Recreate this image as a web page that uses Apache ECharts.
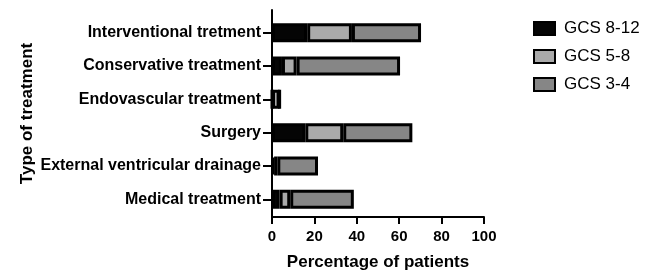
<!DOCTYPE html>
<html>
<head>
<meta charset="utf-8">
<script src="https://cdn.jsdelivr.net/npm/echarts@6/dist/echarts.min.js"></script>
<style>
  html, body { margin: 0; padding: 0; background: #fff; }
  #chart { width: 649px; height: 276px; }
</style>
</head>
<body>
<div id="chart"></div>
<script>
// categories, top to bottom
var treatments = [
    'Interventional tretment',
    'Conservative treatment',
    'Endovascular treatment',
    'Surgery',
    'External ventricular drainage',
    'Medical treatment'
];
var seriesNames = ['GCS 8-12', 'GCS 5-8', 'GCS 3-4'];
// percentage of patients per GCS group
var gcs812 = [16.6, 4.7, 0, 15.7, 1, 3.6];
var gcs58 = [21.1, 6.9, 3.6, 17.9, 1.5, 5];
var gcs34 = [32.6, 48.8, 0, 32.6, 19.2, 30];
var xTicks = [0, 20, 40, 60, 80, 100];

var colors = ['#050505', '#aaaaaa', '#868686'];
var font = '"Liberation Sans", Arial, sans-serif';

var chart = echarts.init(document.getElementById('chart'));

var option = {
    animation: false,
    textStyle: { fontFamily: font, color: '#000' },
    grid: [
        // axis frame (x axis and y axis line)
        { left: 272, width: 212, top: 10, height: 211 },
        // bars
        { left: 272, width: 212, top: 16, height: 200 }
    ],
    legend: {
        orient: 'vertical',
        left: 528,
        top: 15,
        icon: 'rect',
        itemWidth: 21,
        itemHeight: 13,
        itemGap: 11,
        data: seriesNames,
        textStyle: { fontFamily: font, fontSize: 17, color: '#000', lineHeight: 17, padding: [0, 0, 0, 4] }
    },
    xAxis: [
        {
            gridIndex: 0,
            type: 'value',
            min: xTicks[0],
            max: xTicks[xTicks.length - 1],
            interval: xTicks[1] - xTicks[0],
            axisLine: { show: true, lineStyle: { color: '#000', width: 2 } },
            axisTick: { show: true, length: 7, lineStyle: { color: '#000', width: 2 } },
            axisLabel: { margin: 12, fontSize: 15, fontWeight: 'bold', color: '#000', fontFamily: font },
            splitLine: { show: false },
            name: 'Percentage of patients',
            nameLocation: 'middle',
            nameGap: 37,
            nameTextStyle: { fontSize: 17, fontWeight: 'bold', color: '#000', fontFamily: font }
        },
        {
            gridIndex: 1,
            type: 'value',
            min: xTicks[0],
            max: xTicks[xTicks.length - 1],
            show: false
        }
    ],
    yAxis: [
        {
            gridIndex: 0,
            type: 'value',
            min: 0,
            max: 1,
            axisLine: { show: true, lineStyle: { color: '#000', width: 2 } },
            axisTick: { show: false },
            axisLabel: { show: false },
            splitLine: { show: false },
            name: 'Type of treatment',
            nameLocation: 'middle',
            nameRotate: 90,
            nameGap: 236,
            nameTextStyle: { fontSize: 17, fontWeight: 'bold', color: '#000', fontFamily: font }
        },
        {
            gridIndex: 1,
            type: 'category',
            inverse: true,
            data: treatments,
            axisLine: { show: false },
            axisTick: { show: true, alignWithLabel: true, length: 9, lineStyle: { color: '#000', width: 2 } },
            axisLabel: { margin: 11, fontSize: 16, fontWeight: 'bold', color: '#000', fontFamily: font }
        }
    ],
    series: [gcs812, gcs58, gcs34].map(function (d, i) {
        return {
            name: seriesNames[i],
            type: 'bar',
            stack: 'total',
            xAxisIndex: 1,
            yAxisIndex: 1,
            barWidth: 19,
            data: d,
            itemStyle: { color: colors[i], borderColor: '#000', borderWidth: 3 }
        };
    })
};

chart.setOption(option);
</script>
</body>
</html>
